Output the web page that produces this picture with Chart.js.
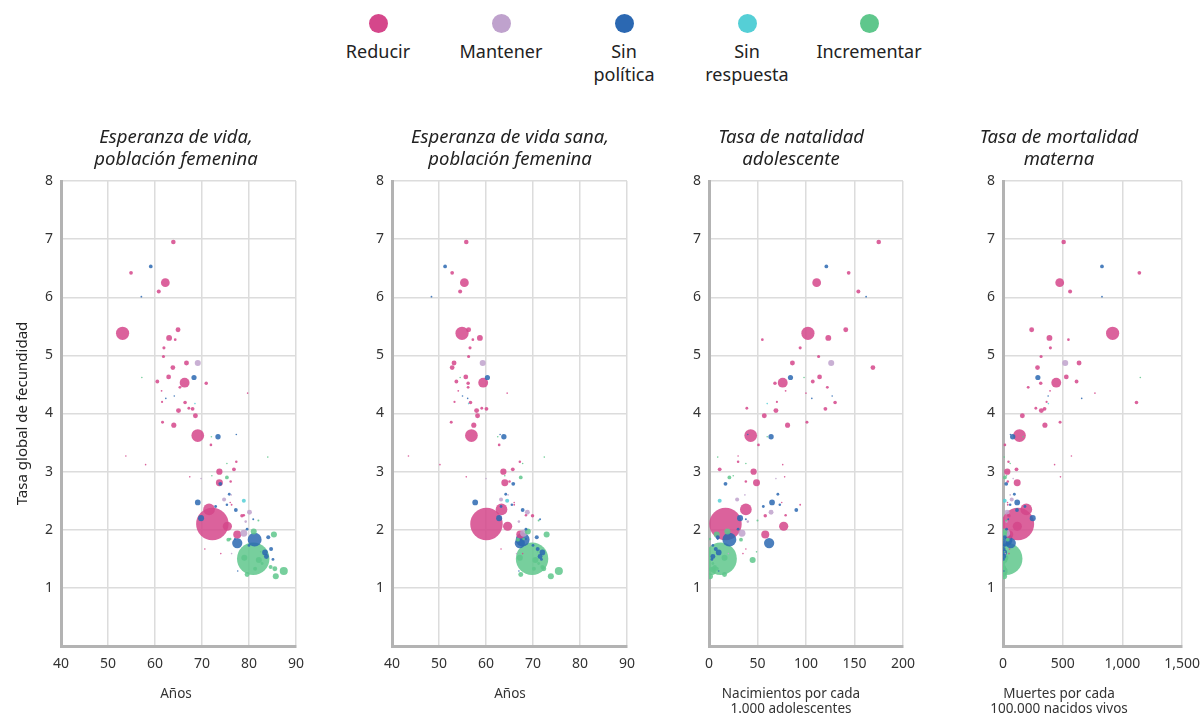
<!DOCTYPE html>
<html lang="es">
<head>
<meta charset="utf-8">
<title>Política de fecundidad</title>
<script src="https://cdn.jsdelivr.net/npm/chart.js@4/dist/chart.umd.min.js"></script>
<style>
  html, body { margin: 0; padding: 0; background: #fff; width: 1200px; height: 714px; overflow: hidden; font-family: "Noto Sans", sans-serif; }
  canvas { position: absolute; top: 120px; }
  .key { position: absolute; top: 0; width: 130px; margin-left: -65px; text-align: center; color: #222; font-size: 18px; line-height: 23px; }
  .key i { display: block; width: 19px; height: 19px; border-radius: 50%; margin: 14px auto 7px; }
</style>
</head>
<body>
<div id="legend"></div>
<canvas id="c1" width="352" height="594" style="left:0px"></canvas>
<canvas id="c2" width="360" height="594" style="left:330px"></canvas>
<canvas id="c3" width="268" height="594" style="left:657px"></canvas>
<canvas id="c4" width="302" height="594" style="left:908px"></canvas>
<script>
// policy categories (legend order)
const policies = ['Reducir', 'Mantener', 'Sin\npolítica', 'Sin\nrespuesta', 'Incrementar'];
const policyColors = ['#d5478b', '#bfa2cd', '#2b68b2', '#55cfd6', '#5fc78c'];

// one entry per country: policy index, total fertility rate, and the four x measures
const policy = [
  0, 2, 0, 0, 0, 2, 0, 0, 0, 0,
  0, 0, 0, 1, 0, 2, 0, 0, 0, 0,
  4, 0, 0, 0, 0, 2, 2, 0, 0, 0,
  0, 0, 0, 0, 2, 0, 2, 4, 0, 0,
  0, 4, 0, 0, 2, 0, 4, 0, 0, 1,
  4, 2, 2, 1, 3, 2, 0, 2, 1, 0,
  0, 0, 0, 0, 2, 2, 1, 0, 2, 2,
  4, 4, 4, 4, 4, 4, 4, 4, 4, 4,
  4, 4, 2, 2, 2, 2, 2, 2, 1, 4,
  2, 0, 1, 0, 2, 1, 0, 0, 3, 4,
  2, 4, 2, 4, 4
];
const fertility = [
  6.95, 6.53, 6.42, 6.25, 6.10, 6.01, 5.38, 5.44, 5.30, 5.27,
  5.13, 4.98, 4.87, 4.87, 4.79, 4.62, 4.63, 4.53, 4.55, 4.52,
  4.62, 4.45, 4.39, 4.20, 4.19, 4.26, 4.30, 4.05, 4.09, 4.08,
  3.96, 3.85, 3.80, 3.62, 3.60, 3.46, 3.64, 3.25, 3.27, 3.12,
  3.17, 3.14, 3.00, 2.81, 2.79, 3.04, 2.90, 2.83, 2.91, 2.88,
  2.93, 2.47, 2.61, 2.52, 2.50, 2.43, 2.43, 2.34, 2.30, 2.24,
  2.25, 2.10, 2.35, 2.06, 2.20, 2.40, 1.94, 1.92, 1.77, 1.83,
  1.97, 1.92, 1.50, 1.29, 1.20, 1.23, 1.33, 1.36, 1.52, 1.48,
  1.33, 1.83, 1.61, 1.54, 1.67, 1.49, 1.87, 2.01, 2.14, 2.16,
  2.18, 1.59, 1.59, 1.67, 1.29, 2.60, 2.47, 4.35, 4.17, 3.60,
  1.84, 1.84, 1.73, 1.62, 1.42
];
const lifeExpFemale = [
  63.9, 59.1, 54.9, 62.2, 60.8, 57.1, 53.1, 64.9, 63.0, 64.3,
  61.9, 61.8, 66.7, 69.1, 63.8, 68.3, 62.9, 66.3, 60.5, 70.9,
  57.2, 65.3, 61.4, 61.5, 66.4, 62.3, 64.1, 65.0, 67.2, 68.0,
  68.6, 61.6, 64.0, 69.1, 73.4, 71.9, 77.3, 84.0, 53.8, 58.0,
  77.3, 75.3, 73.7, 73.7, 73.9, 76.8, 75.3, 76.1, 67.4, 69.8,
  72.1, 69.1, 75.8, 74.7, 78.9, 75.3, 76.3, 77.2, 80.1, 78.5,
  78.9, 72.2, 71.5, 75.4, 69.8, 72.9, 78.9, 77.5, 77.5, 81.2,
  81.0, 85.3, 80.9, 87.4, 85.7, 79.6, 85.5, 84.6, 79.0, 82.1,
  81.3, 75.6, 83.4, 83.7, 84.7, 85.1, 84.1, 79.6, 79.3, 82.0,
  80.9, 74.0, 76.3, 70.6, 77.6, 76.2, 76.0, 79.7, 68.5, 72.0,
  77.0, 76.0, 80.0, 82.5, 82.8
];
const healthyLifeFemale = [
  55.8, 51.3, 52.8, 55.4, 54.5, 48.4, 54.9, 56.3, 58.7, 57.2,
  56.6, 56.3, 53.2, 59.3, 52.8, 60.3, 55.7, 59.4, 53.7, 56.2,
  54.5, 56.2, 54.1, 53.3, 56.7, 56.1, 55.0, 58.0, 59.1, 60.1,
  58.2, 52.6, 57.4, 56.9, 63.8, 62.8, 63.0, 72.4, 43.5, 50.2,
  67.2, 67.8, 63.7, 64.0, 65.8, 65.7, 67.4, 65.0, 55.8, 60.0,
  64.0, 57.7, 64.2, 63.2, 64.5, 65.5, 66.0, 67.8, 68.8, 69.9,
  68.5, 60.1, 63.3, 64.6, 62.8, 63.2, 68.0, 67.3, 67.2, 67.8,
  68.9, 72.9, 69.8, 75.5, 73.8, 67.4, 72.3, 72.0, 67.2, 70.5,
  70.2, 66.8, 72.0, 71.5, 71.0, 71.8, 70.8, 68.5, 67.0, 71.2,
  71.5, 67.8, 66.5, 63.2, 67.0, 64.7, 66.0, 64.5, 56.3, 62.5,
  68.5, 68.0, 70.0, 71.0, 71.2
];
const teenBirths = [
  175, 121, 144, 111, 154, 162, 102, 141, 123, 55,
  94, 113, 86, 126, 169, 84, 114, 76, 107, 68,
  98, 122, 79, 70, 130, 106, 127, 69, 39, 120,
  57, 101, 81, 43, 64, 51, 40, 9, 30, 76,
  30, 38, 46, 49, 17, 11, 21, 38, 78, 69,
  25, 65, 71, 29, 11, 73, 94, 90, 64, 58,
  79, 17, 38, 77, 32, 56, 34, 58, 62, 21,
  19, 8, 12, 3, 1, 16, 5, 6, 16, 45,
  8, 33, 10, 4, 7, 3, 9, 30, 40, 50,
  38, 35, 20, 38, 10, 37, 75, 100, 60, 60,
  9, 1, 4, 49, 4
];
const maternalDeaths = [
  508, 829, 1142, 475, 562, 829, 918, 240, 389, 548,
  397, 319, 637, 521, 289, 292, 530, 446, 616, 316,
  1150, 211, 394, 365, 1118, 659, 378, 321, 275, 348,
  162, 478, 351, 138, 81, 16, 62, 10, 573, 432,
  46, 60, 36, 119, 27, 113, 16, 40, 481, 85,
  30, 119, 95, 73, 14, 60, 40, 117, 34, 50,
  45, 125, 195, 120, 249, 184, 30, 52, 65, 21,
  12, 8, 27, 5, 9, 5, 4, 7, 20, 12,
  12, 40, 10, 6, 5, 4, 15, 30, 30, 25,
  44, 50, 20, 55, 8, 60, 38, 770, 380, 170,
  8, 5, 10, 14, 6
];
// population, millions (bubble area)
const population = [
  26, 17, 17, 95, 20, 4, 215, 30, 42, 9,
  12, 12, 30, 45, 28, 33, 28, 120, 18, 15,
  3, 10, 4, 6, 16, 2, 2, 30, 10, 18,
  30, 11, 32, 200, 35, 9, 1, 1, 1, 1,
  8, 3, 48, 60, 18, 18, 18, 8, 3, 3,
  2, 40, 10, 20, 20, 8, 4, 18, 30, 15,
  8, 1300, 170, 105, 45, 10, 60, 80, 130, 240,
  45, 45, 1300, 80, 45, 30, 30, 20, 45, 45,
  20, 18, 40, 30, 20, 10, 20, 10, 8, 5,
  5, 2, 3, 2, 3, 1, 1, 1, 1, 1,
  5, 8, 10, 2, 10
];

const panels = [
  { id: 'c1', values: lifeExpFemale, title: ['Esperanza de vida,', 'población femenina'], xTitle: 'Años',
    min: 40, max: 90, step: 10, yWidth: 61, rightWidth: 56, yTitle: true },
  { id: 'c2', values: healthyLifeFemale, title: ['Esperanza de vida sana,', 'población femenina'], xTitle: 'Años',
    min: 40, max: 90, step: 10, yWidth: 62, rightWidth: 63, yTitle: false },
  { id: 'c3', values: teenBirths, title: ['Tasa de natalidad', 'adolescente'], xTitle: ['Nacimientos por cada', '1.000 adolescentes'],
    min: 0, max: 200, step: 50, yWidth: 52, rightWidth: 17, yTitle: false },
  { id: 'c4', values: maternalDeaths, title: ['Tasa de mortalidad', 'materna'], xTitle: ['Muertes por cada', '100.000 nacidos vivos'],
    min: 0, max: 1500, step: 500, yWidth: 95, rightWidth: 22, yTitle: false }
];

Chart.defaults.font.family = '"Noto Sans", sans-serif';

// legend across the top
const legendX = [378, 501, 624, 747, 869];
const legendBox = document.getElementById('legend');
policies.forEach((name, i) => {
  const key = document.createElement('div');
  key.className = 'key';
  key.style.left = legendX[i] + 'px';
  key.innerHTML = '<i style="background:' + policyColors[i] + '"></i>' + name.replace('\n', '<br>');
  legendBox.appendChild(key);
});

function fade(hex, a) {
  const n = parseInt(hex.slice(1), 16);
  return 'rgba(' + (n >> 16) + ',' + ((n >> 8) & 255) + ',' + (n & 255) + ',' + a + ')';
}

function makePanel(p) {
  // biggest bubbles first so the small ones stay visible on top
  const points = fertility.map((y, i) => ({
    x: p.values[i], y: y, r: Math.max(0.8, 0.45 * Math.sqrt(population[i])), k: policy[i], pop: population[i]
  })).sort((a, b) => b.pop - a.pop);

  const oneLine = !Array.isArray(p.xTitle);

  new Chart(document.getElementById(p.id), {
    type: 'bubble',
    data: {
      datasets: [{
        data: points,
        backgroundColor: ctx => ctx.raw ? fade(policyColors[ctx.raw.k], 0.85) : '#999',
        borderWidth: 0,
        hoverRadius: 0
      }]
    },
    options: {
      responsive: false,
      animation: false,
      events: [],
      layout: { padding: 0 },
      plugins: {
        legend: { display: false },
        tooltip: { enabled: false },
        title: {
          display: true,
          text: p.title,
          color: '#222',
          font: { size: 18.5, style: 'italic', weight: 'normal', lineHeight: '22px' },
          padding: { top: 6.5, bottom: 10.5 }
        },
        // x axis caption, centred on the whole panel like the heading
        subtitle: {
          display: true,
          position: 'bottom',
          text: p.xTitle,
          color: '#333',
          font: { size: 13.5, lineHeight: '15px' },
          padding: { top: 0, bottom: oneLine ? 12.5 : -2.5 }
        }
      },
      scales: {
        x: {
          type: 'linear',
          min: p.min,
          max: p.max,
          ticks: { stepSize: p.step, padding: 10, color: '#333', font: { size: 14 } },
          grid: { color: '#dcdcdc', lineWidth: 1.5, drawTicks: false },
          border: { color: '#b3b3b3', width: 3 },
          afterFit: s => { s.height = 40.5; }
        },
        y: {
          min: 0,
          max: 8,
          ticks: { stepSize: 1, padding: 8, color: '#333', font: { size: 14 },
                   callback: v => v === 0 ? '' : v },
          grid: { color: '#dcdcdc', lineWidth: 1.5, drawTicks: false },
          border: { color: '#b3b3b3', width: 3 },
          title: { display: p.yTitle, text: 'Tasa global de fecundidad', color: '#222',
                   font: { size: 15 }, padding: { top: 14, bottom: 0 } },
          afterFit: s => { s.width = p.yWidth; }
        },
        // empty right-hand spacer so the plot sits where it should
        yRight: {
          position: 'right',
          min: 0,
          max: 8,
          ticks: { display: false },
          grid: { display: false },
          border: { display: false },
          afterFit: s => { s.width = p.rightWidth; }
        }
      }
    }
  });
}

panels.forEach(makePanel);
</script>
</body>
</html>
